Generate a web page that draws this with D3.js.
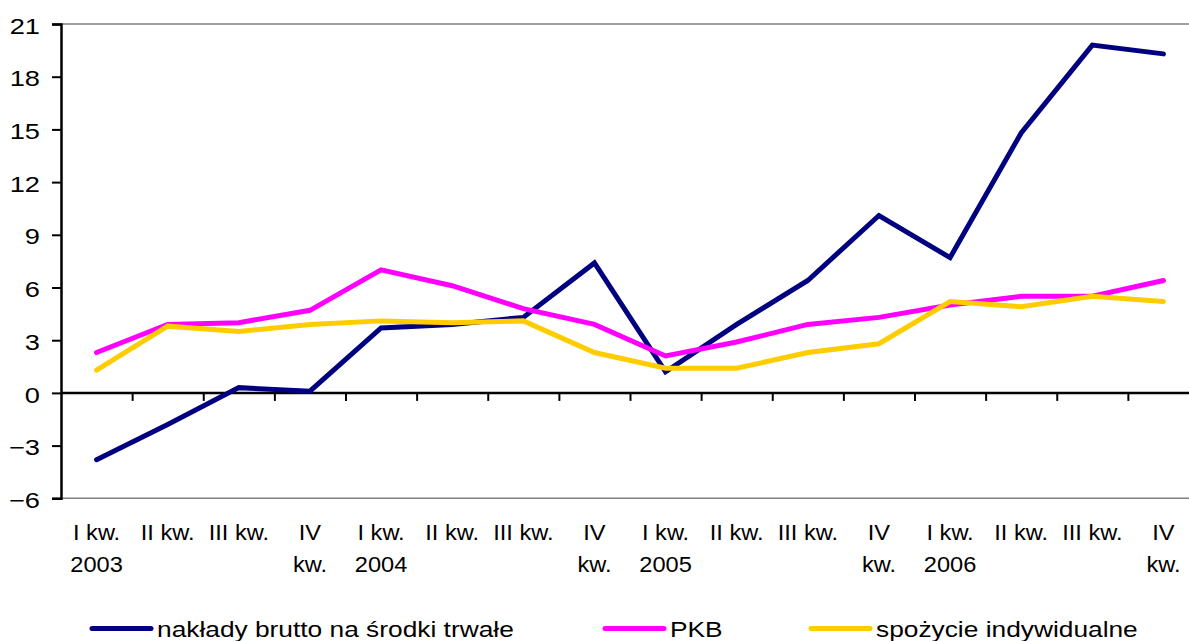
<!DOCTYPE html>
<html>
<head>
<meta charset="utf-8">
<script src="https://cdnjs.cloudflare.com/ajax/libs/d3/7.8.5/d3.min.js"></script>
<style>
  html, body { margin: 0; padding: 0; background: #fff; overflow: hidden; }
  svg { display: block; font-family: Arial, "Liberation Sans", sans-serif; }
</style>
</head>
<body>
<svg id="chart" width="1189" height="641"></svg>
<script>
// ---- data ----
const categories = [
  "I kw.|2003", "II kw.", "III kw.", "IV|kw.",
  "I kw.|2004", "II kw.", "III kw.", "IV|kw.",
  "I kw.|2005", "II kw.", "III kw.", "IV|kw.",
  "I kw.|2006", "II kw.", "III kw.", "IV|kw."
];
const naklady = [-3.8, -1.8, 0.3, 0.1, 3.7, 3.9, 4.3, 7.4, 1.2, 3.9, 6.4, 10.1, 7.7, 14.8, 19.8, 19.3];
const pkb     = [2.3, 3.9, 4.0, 4.7, 7.0, 6.1, 4.8, 3.9, 2.1, 2.9, 3.9, 4.3, 5.0, 5.5, 5.5, 6.4];
const spozycie= [1.3, 3.8, 3.5, 3.9, 4.1, 4.0, 4.1, 2.3, 1.4, 1.4, 2.3, 2.8, 5.2, 4.9, 5.5, 5.2];
const yTicks  = [-6, -3, 0, 3, 6, 9, 12, 15, 18, 21];
const seriesNames = ["nakłady brutto na środki trwałe", "PKB", "spożycie indywidualne"];
const seriesColors = ["#000080", "#FF00FF", "#FFCC00"];

const series = [naklady, pkb, spozycie];

// ---- layout ----
const svg = d3.select("#chart");
const mLeft = 61, mRight = 1199, mTop = 24, mBottom = 498.3;
const FS = 22.5;

const x = d3.scaleBand().domain(d3.range(categories.length)).range([mLeft, mRight]).padding(0);
const xEdge = d3.scaleLinear().domain([0, categories.length]).range([mLeft, mRight]);
const y = d3.scaleLinear().domain([-6, 21]).range([mBottom, mTop]);

// plot area top/bottom borders
svg.append("line").attr("x1", mLeft).attr("x2", mRight).attr("y1", y(21)).attr("y2", y(21))
  .attr("stroke", "#808080").attr("stroke-width", 1.5);
svg.append("line").attr("x1", mLeft).attr("x2", mRight).attr("y1", y(-6)).attr("y2", y(-6))
  .attr("stroke", "#808080").attr("stroke-width", 1.5);

// y axis
const yAxis = svg.append("g").attr("transform", `translate(${mLeft},0)`)
  .call(d3.axisLeft(y).tickValues(yTicks).tickSize(9).tickPadding(12).tickFormat(d3.format("d")));
yAxis.select(".domain").attr("stroke", "#000").attr("stroke-width", 2.5);
yAxis.selectAll(".tick line").attr("stroke", "#000").attr("stroke-width", 2);
yAxis.selectAll(".tick text")
  .attr("font-size", FS).attr("fill", "#000")
  .attr("font-family", "Arial, 'Liberation Sans', sans-serif")
  .attr("x", 0).attr("dy", null)
  .attr("dominant-baseline", "central")
  .attr("transform", "translate(-21,1) scale(1.21,1)");

// x axis at zero
const xAxis = svg.append("g").attr("transform", `translate(0,${y(0)})`)
  .call(d3.axisBottom(xEdge).tickValues(d3.range(1, categories.length + 1)).tickSize(8).tickFormat(""));
xAxis.select(".domain").attr("stroke", "#000").attr("stroke-width", 2.5).attr("d", `M${mLeft},0H${mRight}`);
xAxis.selectAll(".tick line").attr("stroke", "#000").attr("stroke-width", 2);

// x category labels
const lab = svg.append("g");
categories.forEach((c, i) => {
  const parts = c.split("|");
  const cx = x(i) + x.bandwidth() / 2;
  parts.forEach((p, j) => {
    lab.append("text")
      .attr("transform", `translate(${cx},${540 + j * 32}) scale(1.05,1)`)
      .attr("text-anchor", "middle")
      .attr("font-size", FS)
      .attr("fill", "#000")
      .text(p);
  });
});

// lines
const line = d3.line()
  .x((d, i) => x(i) + x.bandwidth() / 2)
  .y(d => y(d));

series.forEach((s, k) => {
  svg.append("path")
    .datum(s)
    .attr("fill", "none")
    .attr("stroke", seriesColors[k])
    .attr("stroke-width", 5)
    .attr("stroke-linejoin", "miter")
    .attr("stroke-linecap", "round")
    .attr("d", line);
});

// legend
const legendX = [92, 605, 811];
const legend = svg.append("g");
seriesNames.forEach((n, k) => {
  legend.append("line")
    .attr("x1", legendX[k]).attr("x2", legendX[k] + 59)
    .attr("y1", 628.5).attr("y2", 628.5)
    .attr("stroke", seriesColors[k]).attr("stroke-width", 5).attr("stroke-linecap", "round");
  legend.append("text")
    .attr("transform", `translate(${legendX[k] + 65},637) scale(1.17,1)`)
    .attr("font-size", FS).attr("fill", "#000")
    .text(n);
});
</script>
</body>
</html>
